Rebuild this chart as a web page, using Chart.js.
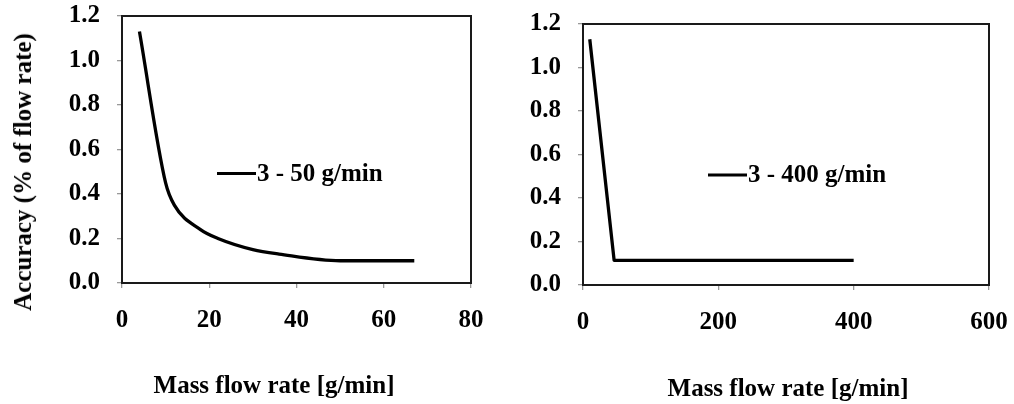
<!DOCTYPE html>
<html>
<head>
<meta charset="utf-8">
<script src="https://cdn.jsdelivr.net/npm/chart.js@4.4.0/dist/chart.umd.min.js"></script>
<style>
  html, body { margin: 0; padding: 0; background: #fff; }
  #wrap { position: relative; width: 1014px; height: 404px; overflow: hidden; }
  canvas { position: absolute; top: 0; }
  #chartSmall { left: 0; }
  #chartLarge { left: 505px; }
  .lbl {
    position: absolute;
    font: bold 25px "Liberation Serif", "Times New Roman", serif;
    color: #000;
    white-space: nowrap;
    transform: translate(-50%, -50%);
  }
  #yTitle { transform: translate(-50%, -50%) rotate(-90deg); }
</style>
</head>
<body>
<div id="wrap">
  <canvas id="chartSmall" width="505" height="404"></canvas>
  <canvas id="chartLarge" width="509" height="404"></canvas>
  <div class="lbl" id="yTitle" style="left:23px; top:172px;">Accuracy (% of flow rate)</div>
  <div class="lbl" style="left:274px; top:385px;">Mass flow rate [g/min]</div>
  <div class="lbl" style="left:788px; top:388px;">Mass flow rate [g/min]</div>
</div>
<script>
/* Accuracy vs mass flow rate, two controller ranges side by side */

// left panel: 3 - 50 g/min controller
const flowSmall = [4, 10, 12, 18, 22, 30, 36, 50, 67];
const accSmall  = [1.13, 0.45, 0.35, 0.24, 0.2, 0.15, 0.13, 0.1, 0.1];
const labelSmall = "3 - 50 g/min";

// right panel: 3 - 400 g/min controller
const flowLarge = [10, 46, 400];
const accLarge  = [1.13, 0.113, 0.113];
const labelLarge = "3 - 400 g/min";

// axis ticks
const yTicks = [0, 0.2, 0.4, 0.6, 0.8, 1.0, 1.2];
const xTicksSmall = [0, 20, 40, 60, 80];
const xTicksLarge = [0, 200, 400, 600];

const FONT = { family: "'Liberation Serif', 'Times New Roman', serif", size: 25, weight: "bold" };

function pts(xs, ys) {
  return xs.map((x, i) => ({ x: x, y: ys[i] }));
}

// black frame round the plot area
const frame = {
  id: "frame",
  afterDraw(chart) {
    const a = chart.chartArea, ctx = chart.ctx;
    ctx.save();
    ctx.strokeStyle = "#1a1a1a";
    ctx.lineWidth = 2;
    ctx.strokeRect(a.left, a.top, a.right - a.left, a.bottom - a.top);
    ctx.restore();
  }
};

// legend drawn inside the plot, line sample + label
const inLegend = {
  id: "inLegend",
  afterDraw(chart, args, o) {
    const ds = chart.data.datasets[0], ctx = chart.ctx;
    ctx.save();
    ctx.strokeStyle = ds.borderColor;
    ctx.lineWidth = 3;
    ctx.beginPath();
    ctx.moveTo(o.x1, o.y);
    ctx.lineTo(o.x2, o.y);
    ctx.stroke();
    ctx.fillStyle = "#000";
    ctx.font = "bold 25px 'Liberation Serif', 'Times New Roman', serif";
    ctx.textBaseline = "middle";
    ctx.fillText(ds.label, o.x2 + 1, o.y + 1);
    ctx.restore();
  }
};

function makeChart(canvas, cfg) {
  return new Chart(canvas, {
    type: "line",
    data: {
      datasets: [{
        label: cfg.label,
        data: cfg.data,
        borderColor: "#000",
        borderWidth: 3.3,
        pointRadius: 0,
        cubicInterpolationMode: cfg.smooth ? "monotone" : "default",
        tension: 0,
        borderJoinStyle: "round",
        fill: false
      }]
    },
    options: {
      responsive: false,
      animation: false,
      events: [],
      layout: { padding: cfg.pad },
      plugins: {
        legend: { display: false },
        tooltip: { enabled: false },
        inLegend: cfg.legend
      },
      scales: {
        x: {
          type: "linear",
          min: cfg.xTicks[0],
          max: cfg.xTicks[cfg.xTicks.length - 1],
          afterBuildTicks: s => { s.ticks = cfg.xTicks.map(v => ({ value: v })); },
          afterFit: s => { s.height = cfg.xH; s.paddingLeft = 0; s.paddingRight = 0; },
          border: { display: false },
          grid: { drawOnChartArea: false, tickLength: 5, tickColor: "#999", lineWidth: 1.3 },
          ticks: { color: "#000", font: FONT, padding: cfg.xPad, maxRotation: 0 }
        },
        y: {
          min: 0,
          max: 1.2,
          afterBuildTicks: s => { s.ticks = yTicks.map(v => ({ value: v })); },
          afterFit: s => { s.width = cfg.yW; s.paddingTop = 0; s.paddingBottom = 0; },
          border: { display: false },
          grid: { drawOnChartArea: false, tickLength: 5, tickColor: "#999", lineWidth: 1.3 },
          ticks: { color: "#000", font: FONT, padding: cfg.yPad, callback: v => v.toFixed(1) }
        }
      }
    },
    plugins: [frame, inLegend]
  });
}

makeChart(document.getElementById("chartSmall"), {
  label: labelSmall,
  data: pts(flowSmall, accSmall),
  smooth: true,
  xTicks: xTicksSmall,
  pad: { left: 0, right: 34, top: 16, bottom: 0 },
  yW: 122, xH: 121, yPad: 17, xPad: 17.5,
  legend: { x1: 217, x2: 256, y: 173.5 }
});

makeChart(document.getElementById("chartLarge"), {
  label: labelLarge,
  data: pts(flowLarge, accLarge),
  smooth: false,
  xTicks: xTicksLarge,
  pad: { left: 0, right: 25, top: 24, bottom: 0 },
  yW: 78, xH: 119, yPad: 17, xPad: 17.7,
  legend: { x1: 203, x2: 242, y: 175 }
});
</script>
</body>
</html>
